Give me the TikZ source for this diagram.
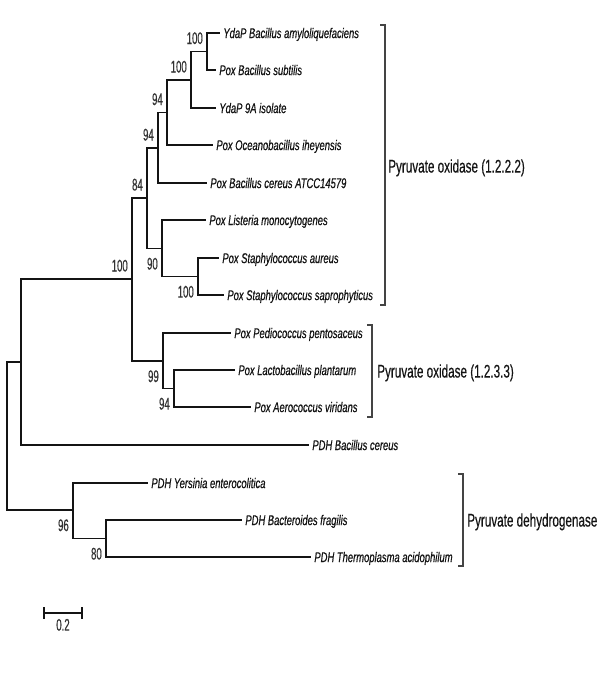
\documentclass[tikz,border=0pt]{standalone}
\usepackage{fontspec}
\usepackage{tikz}
\usetikzlibrary{positioning}
\newfontfamily\leaffont[FakeStretch=0.67,FakeBold=0.6]{Liberation Sans}
\newfontfamily\bootfont[FakeStretch=0.57,FakeBold=0.4]{Liberation Sans}
\newfontfamily\groupfont[FakeStretch=0.64,FakeBold=0.4]{Liberation Sans}
\definecolor{ink}{HTML}{141414}
\definecolor{bootgray}{HTML}{333333}
\definecolor{brackgray}{HTML}{444444}
\tikzset{
  branch/.style={draw=ink,line width=1pt},
  leaf/.style={anchor=west,inner xsep=2.2pt,inner ysep=0pt,text height=7.2pt,text depth=0pt,
    font=\leaffont\itshape\fontsize{10}{12}\selectfont,text=ink},
  boot/.style={inner sep=0pt,font=\bootfont\fontsize{12}{14}\selectfont,text=bootgray},
  bracketline/.style={draw=brackgray,line width=0.75pt},
  groupname/.style={anchor=west,inner sep=0pt,text height=9.3pt,text depth=0pt,
    font=\groupfont\fontsize{13}{15}\selectfont,text=ink}
}

\begin{document}
\begin{tikzpicture}[x=0.025cm,y=-0.025cm]
  \useasboundingbox (0,0) rectangle (600,678);
  \node[leaf] (amylo) at (220,33) {YdaP Bacillus amyloliquefaciens};
  \node[leaf] (subtilis) at (216,70) {Pox Bacillus subtilis};
  \node[leaf] (isolate) at (216,108) {YdaP 9A isolate};
  \node[leaf] (oceano) at (213,145) {Pox Oceanobacillus iheyensis};
  \node[leaf] (cereusatcc) at (207,183) {Pox Bacillus cereus ATCC14579};
  \node[leaf] (listeria) at (206,220) {Pox Listeria monocytogenes};
  \node[leaf] (aureus) at (219,258) {Pox Staphylococcus aureus};
  \node[leaf] (sapro) at (224,295) {Pox Staphylococcus saprophyticus};
  \node[leaf] (pedio) at (231,333) {Pox Pediococcus pentosaceus};
  \node[leaf] (lacto) at (235,370) {Pox Lactobacillus plantarum};
  \node[leaf] (aero) at (251,407) {Pox Aerococcus viridans};
  \node[leaf] (pdhcereus) at (309,445) {PDH Bacillus cereus};
  \node[leaf] (yersinia) at (148,483) {PDH Yersinia enterocolitica};
  \node[leaf] (bactero) at (242,520) {PDH Bacteroides fragilis};
  \node[leaf] (thermo) at (311,557) {PDH Thermoplasma acidophilum};

  \coordinate (nA) at (207,51.5);
  \coordinate (nB) at (191,80);
  \coordinate (nC) at (167,112.5);
  \coordinate (nD) at (158,148);
  \coordinate (nE) at (147,198);
  \coordinate (nF) at (162,248.5);
  \coordinate (nS) at (198,276.5);
  \coordinate (nG) at (132,279);
  \coordinate (nI) at (163,361);
  \coordinate (nJ) at (174,388.5);
  \coordinate (nH) at (21,362);
  \coordinate (nK) at (73,510);
  \coordinate (nL) at (106,538.5);
  \coordinate (root) at (7,436);

  \draw[branch] (nA) |- (amylo.west); \draw[branch] (nA) |- (subtilis.west);
  \draw[branch] (nB) |- (nA); \draw[branch] (nB) |- (isolate.west);
  \draw[branch] (nC) |- (nB); \draw[branch] (nC) |- (oceano.west);
  \draw[branch] (nD) |- (nC); \draw[branch] (nD) |- (cereusatcc.west);
  \draw[branch] (nS) |- (aureus.west); \draw[branch] (nS) |- (sapro.west);
  \draw[branch] (nF) |- (listeria.west); \draw[branch] (nF) |- (nS);
  \draw[branch] (nE) |- (nD); \draw[branch] (nE) |- (nF);
  \draw[branch] (nJ) |- (lacto.west); \draw[branch] (nJ) |- (aero.west);
  \draw[branch] (nI) |- (pedio.west); \draw[branch] (nI) |- (nJ);
  \draw[branch] (nG) |- (nE); \draw[branch] (nG) |- (nI);
  \draw[branch] (nH) |- (nG); \draw[branch] (nH) |- (pdhcereus.west);
  \draw[branch] (nL) |- (bactero.west); \draw[branch] (nL) |- (thermo.west);
  \draw[branch] (nK) |- (yersinia.west); \draw[branch] (nK) |- (nL);
  \draw[branch] (root) |- (nH); \draw[branch] (root) |- (nK);

  \node[boot,above left=5pt and 2.8pt of nA] (bA) {100};
  \node[boot,above left=5pt and 2.8pt of nB] (bB) {100};
  \node[boot,above left=5pt and 2.8pt of nC] (bC) {94};
  \node[boot,above left=5pt and 2.8pt of nD] (bD) {94};
  \node[boot,above left=5pt and 2.8pt of nE] (bE) {84};
  \node[boot,above left=5pt and 2.8pt of nG] (bG) {100};
  \node[boot,below left=6.4pt and 2.8pt of nF] (bF) {90};
  \node[boot,below left=6.4pt and 2.8pt of nS] (bS) {100};
  \node[boot,below left=6.4pt and 2.8pt of nI] (bI) {99};
  \node[boot,below left=6.4pt and 2.8pt of nJ] (bJ) {94};
  \node[boot,below left=6.4pt and 2.8pt of nK] (bK) {96};
  \node[boot,below left=6.4pt and 2.8pt of nL] (bL) {80};

  \draw[bracketline] (380,25) -| (385,305) -- (380,305);
  \node[groupname] (oxone) at (388,166) {Pyruvate oxidase (1.2.2.2)};
  \draw[bracketline] (367,325) -| (372,417) -- (367,417);
  \node[groupname] (oxtwo) at (377,371) {Pyruvate oxidase (1.2.3.3)};
  \draw[bracketline] (458,474) -| (463,566) -- (458,566);
  \node[groupname] (pdh) at (467,520) {Pyruvate dehydrogenase};

  \draw[branch,line width=0.75pt] (44,607) -- (44,619) (44,613) -- (82,613) (82,607) -- (82,619);
  \node[boot,below=4pt of {(63,613)}] (scale) {0.2};
\end{tikzpicture}
\end{document}
